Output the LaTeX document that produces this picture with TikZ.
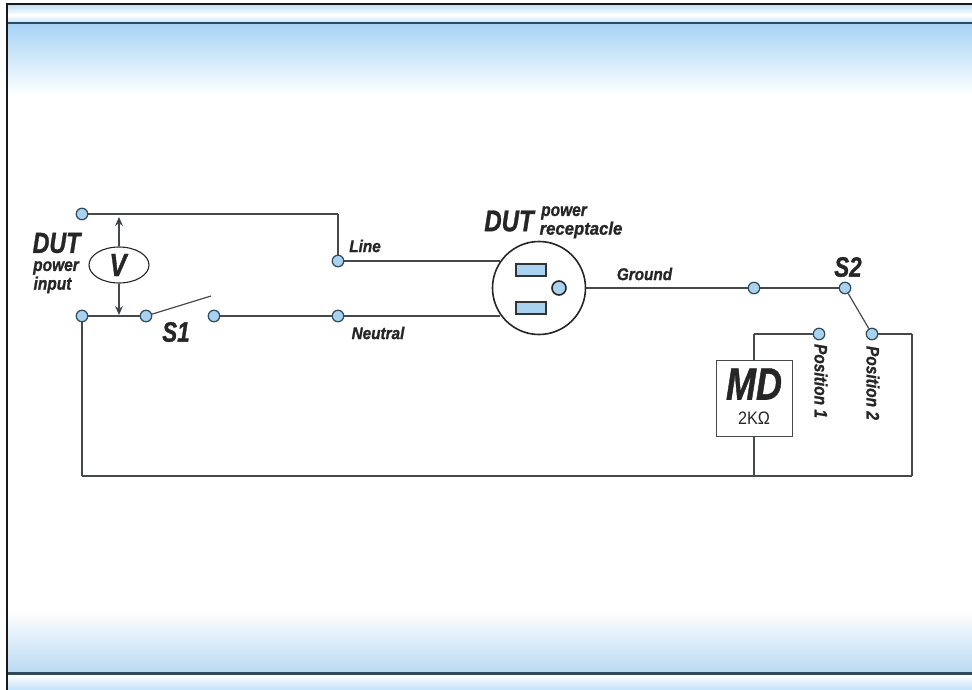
\documentclass[tikz,border=0pt]{standalone}
\usepackage{fontspec}
\setmainfont{Liberation Sans}[BoldItalicFeatures={FakeBold=1.2}]
\usetikzlibrary{arrows.meta,shapes.geometric}
\definecolor{wirecol}{HTML}{45494C}
\definecolor{dotcol}{HTML}{A9D2F0}
\definecolor{dotline}{HTML}{2E4A5C}
\definecolor{skyblue}{HTML}{A8D4F6}
\definecolor{botblue}{HTML}{BBDAF2}

\begin{document}
\begin{tikzpicture}[x=1pt,y=-1pt,>={Stealth[length=9pt,width=8pt]},semithick]
  \tikzstyle{term}=[circle,fill=dotcol,draw=dotline,line width=1.2pt,minimum size=11.5pt,inner sep=0pt]
  \tikzstyle{slot}=[rectangle,fill=dotcol,draw=black!80,line width=1.4pt,minimum width=30pt,minimum height=12pt,inner sep=0pt]
  \tikzstyle{wire}=[draw=wirecol,line width=1.2pt]
  \tikzstyle{lbl}=[font=\bfseries\itshape,text=black!85,inner sep=0pt,transform shape]
  \tikzstyle{small}=[lbl,font=\fontsize{17}{17}\selectfont\bfseries\itshape,xscale=.9]
  \tikzstyle{mid}=[lbl,font=\fontsize{18}{18}\selectfont\bfseries\itshape,xscale=.86]
  \tikzstyle{big}=[lbl,font=\fontsize{28}{28}\selectfont\bfseries\itshape,xscale=.8]

  % page frame and bands
  \useasboundingbox (0,0) rectangle (972,690);
  \fill[white] (0,0) rectangle (972,690);
  \shade[top color=skyblue,bottom color=white] (6,25) rectangle (972,95);
  \shade[top color=white,bottom color=botblue] (6,610) rectangle (972,672);
  \shade[top color=skyblue!70,bottom color=white] (6,5) rectangle (972,15);
  \shade[top color=white,bottom color=skyblue!70] (6,15) rectangle (972,23);
  \shade[top color=white,bottom color=skyblue!70] (6,675) rectangle (972,690);
  \fill[dotline] (6,22.5) rectangle (972,24.5);
  \fill[dotline] (6,672) rectangle (972,674.5);
  \fill[black!90] (5.5,3) rectangle (972,5);
  \fill[black!90] (5.5,3) rectangle (7.5,690);

  % terminals
  \node[term] (inL)    at (82,214)  {};
  \node[term] (inN)    at (82,316)  {};
  \node[term] (sOneA)  at (146,316) {};
  \node[term] (sOneB)  at (214,316) {};
  \node[term] (lineT)  at (338,261) {};
  \node[term] (neutT)  at (338,316) {};
  \node[term] (gndT)   at (754,288) {};
  \node[term] (sTwoC)  at (845,288) {};
  \node[term] (posOne) at (819,334) {};
  \node[term] (posTwo) at (872,334) {};

  % meter, receptacle, detector
  \node[ellipse,draw=black!85,line width=1.1pt,minimum width=60pt,minimum height=36pt,inner sep=0pt] (volt) at (119,265) {};
  \node[circle,draw=black!85,line width=1.6pt,minimum size=93pt,inner sep=0pt] (recp) at (539,288) {};
  \node[slot] (slotA) at (531,270) {};
  \node[slot] (slotB) at (531,308) {};
  \node[term,draw=black!85,line width=1.6pt,minimum size=14pt] (gndPin) at (559,288) {};
  \node[rectangle,draw=wirecol,line width=1pt,minimum size=76pt,inner sep=0pt] (md) at (754,398) {};

  % corners
  \coordinate (cornerA) at (338,214);
  \coordinate (cornerB) at (82,476);
  \coordinate (cornerC) at (754,476);
  \coordinate (cornerD) at (912,476);
  \coordinate (cornerE) at (912,334);
  \coordinate (cornerF) at (754,334);
  \coordinate (sOneEnd) at (211,296);
  \coordinate (tipUp)   at (119,217);
  \coordinate (tipDown) at (119,315);

  \path[wire] (inL) edge (cornerA)
              (cornerA) edge (lineT)
              (lineT) edge (lineT -| recp.145)
              (inN) edge (sOneA)
              (inN) edge (cornerB)
              (sOneA) edge (sOneEnd)
              (sOneB) edge (neutT)
              (neutT) edge (neutT -| recp.215)
              (recp.east) edge (gndT)
              (gndT) edge (sTwoC)
              (sTwoC) edge (posTwo)
              (posTwo) edge (cornerE)
              (cornerE) edge (cornerD)
              (cornerD) edge (cornerB)
              (posOne) edge (cornerF)
              (cornerF) edge (md)
              (md) edge (cornerC);
  \path[wire,->] (volt) edge (tipUp)
                 (volt) edge (tipDown);

  % labels
  \node[big,font=\fontsize{29}{29}\selectfont\bfseries\itshape] (dutIn) at (56.5,243) {DUT};
  \node[mid] (pwrIn) at (56,268) {power};
  \node[mid] (inpIn) at (52.5,285) {input};
  \node[big,font=\fontsize{32}{32}\selectfont\bfseries\itshape] (vLbl) at (118,265) {V};
  \node[big] (sOneLbl) at (176,332) {S1};
  \node[small] (lineLbl) at (365,246) {Line};
  \node[small] (neutLbl) at (378,333) {Neutral};
  \node[big,font=\fontsize{30}{30}\selectfont\bfseries\itshape] (dutOut) at (509,221) {DUT};
  \node[mid] (pwrOut) at (564,213) {power};
  \node[mid,xscale=1.08] (recOut) at (581,230) {receptacle};
  \node[small] (gndLbl) at (644.5,274) {Ground};
  \node[big] (sTwoLbl) at (848,267) {S2};
  \node[big,font=\fontsize{45}{45}\selectfont\bfseries\itshape] (mdLbl) at (754,384) {MD};
  \node[lbl,font=\fontsize{18}{18}\selectfont,xscale=.9] (mdVal) at (754,418) {2KΩ};
  \node[rotate=-90,mid] (posOneLbl) at (821,381) {Position 1};
  \node[rotate=-90,mid] (posTwoLbl) at (873,383) {Position 2};
\end{tikzpicture}
\end{document}
